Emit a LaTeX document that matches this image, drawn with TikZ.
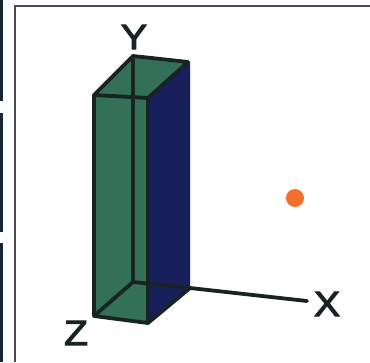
\documentclass[tikz,border=0pt]{standalone}
\usepackage{fontspec}
\setmainfont[FakeBold=3,FakeStretch=1.12]{Liberation Sans}
\definecolor{framec}{RGB}{70,75,85}
\definecolor{stripc}{RGB}{22,38,50}
\definecolor{greenface}{RGB}{52,112,88}
\definecolor{blueface}{RGB}{24,32,92}
\definecolor{edgec}{RGB}{25,35,35}
\definecolor{dotc}{RGB}{245,110,45}
\tikzset{
  px/.style={x=1pt,y=-1pt},
  edge/.style={draw=edgec,line width=3.8pt,line cap=round,line join=round},
  axislabel/.style={text=edgec,font=\fontsize{35}{35}\selectfont,inner sep=0pt},
  strip/.style={fill=stripc,draw=none}
}
\begin{document}
\begin{tikzpicture}[px]
\useasboundingbox (0,0) rectangle (370,362);
\fill[white] (0,0) rectangle (370,362);
\fill[strip] (0,0) rectangle (3,101);
\fill[strip] (0,113) rectangle (3,232);
\fill[strip] (0,243) rectangle (3,362);
\draw[framec,line width=2.5pt] (15,362) -- (15,6) -- (370,6);
\coordinate (ftl) at (94,95);
\coordinate (ftr) at (148,98);
\coordinate (btl) at (133,56);
\coordinate (btr) at (188,62);
\coordinate (fbl) at (94,316);
\coordinate (fbr) at (148,323);
\coordinate (bbl) at (133,282);
\coordinate (bbr) at (190,288);
\coordinate (xend) at (307,301);
\fill[greenface] (ftl) -- (btl) -- (btr) -- (ftr) -- (fbr) -- (fbl) -- cycle;
\fill[blueface] (ftr) -- (190,62) -- (bbr) -- (fbr) -- cycle;
\draw[edge] (ftl) -- (ftr) -- (btr) -- (btl) -- cycle;
\draw[edge] (ftl) -- (fbl) -- (fbr) -- (ftr);
\draw[edge] (btl) -- (bbl) -- (fbl);
\draw[edge] (fbr) -- (bbr) -- (bbl);
\draw[edge] (bbr) -- (xend);
\fill[dotc] (295,198) circle (9);
\node[axislabel] (ylab) at (134,37) {Y};
\node[axislabel] (zlab) at (76,333) {Z};
\node[axislabel] (xlab) at (327,304) {X};
\end{tikzpicture}
\end{document}
